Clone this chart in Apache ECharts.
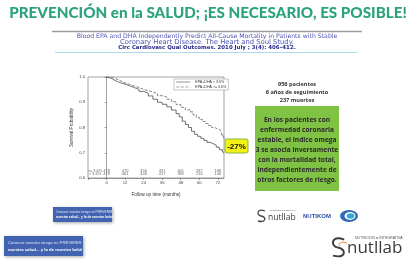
<!DOCTYPE html>
<html>
<head>
<meta charset="utf-8">
<script src="https://cdn.jsdelivr.net/npm/echarts@6/dist/echarts.min.js"></script>
<style>
html,body{margin:0;padding:0;background:#fff;}
#c{width:416px;height:260px;}
</style>
</head>
<body>
<div id="c"></div>
<script>
// ---- data ----
const monthTicks = [0, 12, 24, 36, 48, 60, 72];
const riskHigh = [478, 470, 456, 437, 401, 287, 188];
const riskLow = [478, 461, 446, 417, 385, 234, 146];
const riskLabels = ['>= 3.6%', '< 3.6%'];
const seriesNames = ['EPA+DHA < 3.6%', 'EPA+DHA >= 3.6%'];
const lowMonths = [0,1,3,5,7,9,12,15,18,21,24,27,30,33,36,39,42,45,47,49,51,53,55,57,59,61,63,65,67,69,71,73,75,76];
const lowSurv = [1.0,0.995,0.988,0.982,0.977,0.972,0.965,0.958,0.951,0.943,0.936,0.925,0.912,0.900,0.892,0.882,0.869,0.855,0.842,0.825,0.812,0.800,0.785,0.773,0.765,0.757,0.749,0.741,0.736,0.730,0.722,0.712,0.703,0.698];
const highMonths = [0,2,4,6,8,10,12,15,18,21,24,27,30,33,36,39,42,45,48,51,54,56,58,60,62,64,66,68,70,72,74,75,76];
const highSurv = [1.0,0.998,0.993,0.988,0.982,0.976,0.971,0.964,0.958,0.951,0.946,0.941,0.934,0.926,0.921,0.912,0.902,0.891,0.880,0.870,0.862,0.850,0.840,0.832,0.824,0.816,0.808,0.800,0.794,0.788,0.780,0.765,0.758];
const mainTitle = 'PREVENCIÓN en la SALUD; ¡ES NECESARIO, ES POSIBLE!';
const subTitle = ['Blood EPA and DHA Independently Predict All-Cause Mortality in Patients with Stable',
                  'Coronary Heart Disease. The Heart and Soul Study.',
                  'Circ Cardiovasc Qual Outcomes. 2010 July ; 3(4): 406–412.'];
const studyFacts = ['956 pacientes', '6 años de seguimiento', '237 muertes'];
const boxLines = ['En los pacientes con', 'enfermedad coronaria', 'estable, el indice omega',
                  '3 se asocia inversamente', 'con la mortalidad total,', 'independientemente de',
                  'otros factores de riesgo.'];
const calloutText = '-27%';
const xName = 'Follow up time (months)';
const yName = 'Survival Probability';

// ---- helpers ----
function fitSize(text, weight, family, target) {
  const ctx = document.createElement('canvas').getContext('2d');
  ctx.font = weight + ' 100px ' + family;
  return 100 * target / ctx.measureText(text).width;
}
const titleFamily = 'Lato, "Open Sans", sans-serif';
const titleSize = fitSize(mainTitle, '900', titleFamily, 398);
const subFamily = '"DejaVu Sans", sans-serif';
const subWidths = [261, 174, 178];

const chart = echarts.init(document.getElementById('c'), null, {renderer: 'canvas'});

const graphics = [];
graphics.push({type:'text', x:208, y:13.5, style:{text:mainTitle, fontSize:titleSize, fontWeight:900, fontFamily:titleFamily, fill:'#2ba37e', textAlign:'center', textVerticalAlign:'middle'}});
graphics.push({type:'line', shape:{x1:52,y1:31.5,x2:362,y2:31.5}, style:{stroke:'#9b9b9b', lineWidth:1.5}});
subTitle.forEach((t,i)=>{
  const w = i === 2 ? 'bold' : 'normal';
  graphics.push({type:'text', x:207, y:36.5 + i*5.3, style:{text:t, fontSize:fitSize(t, w, subFamily, subWidths[i]), fontFamily:subFamily, fontWeight:w, fill: i===2?'#27288a':'#5054b4', textAlign:'center', textVerticalAlign:'middle'}});
});
graphics.push({type:'line', shape:{x1:55,y1:52.5,x2:357,y2:52.5}, style:{stroke:'#acdcec', lineWidth:1}});
studyFacts.forEach((t,i)=>{
  graphics.push({type:'text', x:297, y:84 + i*8.3, style:{text:t, fontSize:5.6, fontWeight:'bold', fontFamily:'"Open Sans", sans-serif', fill:'#333', textAlign:'center', textVerticalAlign:'middle'}});
});
graphics.push({type:'rect', shape:{x:255,y:106,width:84,height:85}, style:{fill:'#80c243'}});
boxLines.forEach((t,i)=>{
  graphics.push({type:'text', x:297, y:120 + i*10.1, style:{text:t, fontSize:6.6, fontWeight:'bold', fontFamily:'"Open Sans", sans-serif', fill:'#2b2b2b', textAlign:'center', textVerticalAlign:'middle'}});
});
// callout
graphics.push({type:'line', shape:{x1:221.5,y1:133.5,x2:226,y2:140}, style:{stroke:'#777', lineWidth:0.6}, z:20});
graphics.push({type:'rect', shape:{x:225,y:139,width:23,height:14, r:2}, style:{fill:'#f3f214', stroke:'#8fb441', lineWidth:1}, z:20});
graphics.push({type:'text', x:236.5, y:146.3, style:{text:calloutText, fontSize:8, fontWeight:'bold', fontFamily:'Liberation Sans, sans-serif', fill:'#111', textAlign:'center', textVerticalAlign:'middle'}, z:21});
// banners
graphics.push({type:'rect', shape:{x:53,y:207,width:59,height:15}, style:{fill:'#4264b0', shadowBlur:3, shadowColor:'rgba(0,0,0,0.35)', shadowOffsetX:1, shadowOffsetY:1}});
graphics.push({type:'text', x:56, y:211, style:{text:'Conocer nuestro riesgo es PREVENIR', fontSize:3.3, fill:'#dfe6f7'}});
graphics.push({type:'text', x:56, y:216, style:{text:'nuestra salud... y la de nuestro bebé', fontSize:3.3, fill:'#ffffff', fontWeight:'bold'}});
graphics.push({type:'rect', shape:{x:4,y:236,width:79,height:20}, style:{fill:'#4264b0', shadowBlur:3, shadowColor:'rgba(0,0,0,0.35)', shadowOffsetX:1, shadowOffsetY:1}});
graphics.push({type:'text', x:8, y:241, style:{text:'Conocer nuestro riesgo es PREVENIR', fontSize:4.3, fill:'#dfe6f7'}});
graphics.push({type:'text', x:8, y:247.5, style:{text:'nuestra salud... y la de nuestro bebé', fontSize:4.3, fill:'#ffffff', fontWeight:'bold'}});
// logos
function sCurve(x, y, s, color, lw) {
  graphics.push({type:'bezierCurve', shape:{x1:x+7*s, y1:y+1*s, cpx1:x-1*s, cpy1:y-2*s, cpx2:x-2*s, cpy2:y+5*s, x2:x+3*s, y2:y+6*s}, style:{stroke:color, lineWidth:lw, fill:null}});
  graphics.push({type:'bezierCurve', shape:{x1:x+3*s, y1:y+6*s, cpx1:x+9*s, cpy1:y+7*s, cpx2:x+8*s, cpy2:y+13*s, x2:x, y2:y+11*s}, style:{stroke:color, lineWidth:lw, fill:null}});
}
sCurve(258, 210, 1, '#444', 1.3);
graphics.push({type:'text', x:268, y:217.5, style:{text:'nutllab', fontSize:8.5, fontFamily:'"Open Sans", sans-serif', fill:'#3c3c3c', textVerticalAlign:'middle'}});
graphics.push({type:'text', x:270, y:210, style:{text:'NUTRICIÓN ● INTEGRATIVA', fontSize:2, fill:'#555', textVerticalAlign:'middle'}});
graphics.push({type:'text', x:303, y:216.5, style:{text:'NUTIKOM', fontSize:6, fontWeight:'bold', fontFamily:'Liberation Sans, sans-serif', fill:'#2c4fa6', textVerticalAlign:'middle'}});
graphics.push({type:'circle', shape:{cx:0,cy:0,r:9}, x:349, y:216, scaleY:0.67, style:{fill:'#2f69b3'}});
graphics.push({type:'circle', shape:{cx:0,cy:0,r:5.5}, x:350, y:216, scaleY:0.72, style:{fill:'#ffffff'}});
graphics.push({type:'circle', shape:{cx:0,cy:0,r:3.8}, x:350.5, y:216, scaleY:0.72, style:{fill:'#36a6d4'}});
sCurve(333, 238, 1.6, '#3d3d3d', 2);
graphics.push({type:'bezierCurve', shape:{x1:347, y1:243, cpx1:341, cpy1:241, cpx2:337, cpy2:244, x2:340, y2:246}, style:{stroke:'#e58a2e', lineWidth:1, fill:null}});
graphics.push({type:'text', x:347, y:248, style:{text:'nutllab', fontSize:17, fontFamily:'"Open Sans", sans-serif', fill:'#3a3a3a', textVerticalAlign:'middle'}});
graphics.push({type:'text', x:355, y:237.5, style:{text:'NUTRICIÓN ● INTEGRATIVA', fontSize:3.6, fontFamily:'Liberation Sans, sans-serif', fill:'#555', textVerticalAlign:'middle'}});

const riskSeries = [riskHigh, riskLow].map((row, r) => ({
  type:'scatter', name:'risk' + r, symbolSize:0.1, silent:true,
  itemStyle:{color:'rgba(0,0,0,0)'},
  label:{show:true, position:'inside', fontSize:4, color:'#444', fontFamily:'Liberation Sans, sans-serif',
         formatter: p => p.value[2]},
  data: monthTicks.map((m, i) => [m, r === 0 ? 0.629 : 0.616, String(row[i])])
    .concat([[-7.5, r === 0 ? 0.629 : 0.616, riskLabels[r]]])
}));

chart.setOption({
  animation:false,
  backgroundColor:'#ffffff',
  graphic: graphics,
  grid:{left:88, right:192, top:77, bottom:82, show:true, borderColor:'#666', borderWidth:0.6},
  legend:{
    data: seriesNames, left:174, top:79, orient:'vertical', itemWidth:14, itemHeight:3, itemGap:1,
    padding:[1,2], borderColor:'#888', borderWidth:0.5, backgroundColor:'#fff',
    itemStyle:{opacity:0},
    lineStyle:{width:0.6},
    textStyle:{fontSize:3.6, color:'#333', fontFamily:'Liberation Sans, sans-serif'}
  },
  xAxis:{
    type:'value', min:-12, max:76, interval:12,
    name:xName, nameLocation:'middle', nameGap:14,
    nameTextStyle:{fontSize:4.6, color:'#333', fontFamily:'Liberation Sans, sans-serif'},
    axisLine:{show:true, lineStyle:{color:'#666', width:0.6}},
    axisTick:{show:true, length:2, lineStyle:{color:'#666', width:0.6}},
    axisLabel:{fontSize:4.2, color:'#444', margin:3, showMaxLabel:false,
      formatter: v => monthTicks.indexOf(v) >= 0 ? String(v) : ''},
    splitLine:{show:false}
  },
  yAxis:{
    type:'value', min:0.6, max:1.0, interval:0.1,
    name:yName, nameLocation:'middle', nameGap:14, nameRotate:90,
    nameTextStyle:{fontSize:4.6, color:'#333', fontFamily:'Liberation Sans, sans-serif'},
    axisLine:{show:true, lineStyle:{color:'#666', width:0.6}},
    axisTick:{show:true, length:2, lineStyle:{color:'#666', width:0.6}},
    axisLabel:{fontSize:4.2, color:'#444', margin:3, formatter: v => v.toFixed(1)},
    splitLine:{show:false}
  },
  series:[
    {type:'line', name:seriesNames[0], step:'end', symbol:'none',
     itemStyle:{color:'#4d4d4d'},
     lineStyle:{color:'#4d4d4d', width:0.8},
     data: lowMonths.map((m,i)=>[m, lowSurv[i]])},
    {type:'line', name:seriesNames[1], step:'end', symbol:'none',
     itemStyle:{color:'#666'},
     lineStyle:{color:'#666', width:0.8, type:[3,1.5]},
     data: highMonths.map((m,i)=>[m, highSurv[i]])}
  ].concat(riskSeries)
});
</script>
</body>
</html>
